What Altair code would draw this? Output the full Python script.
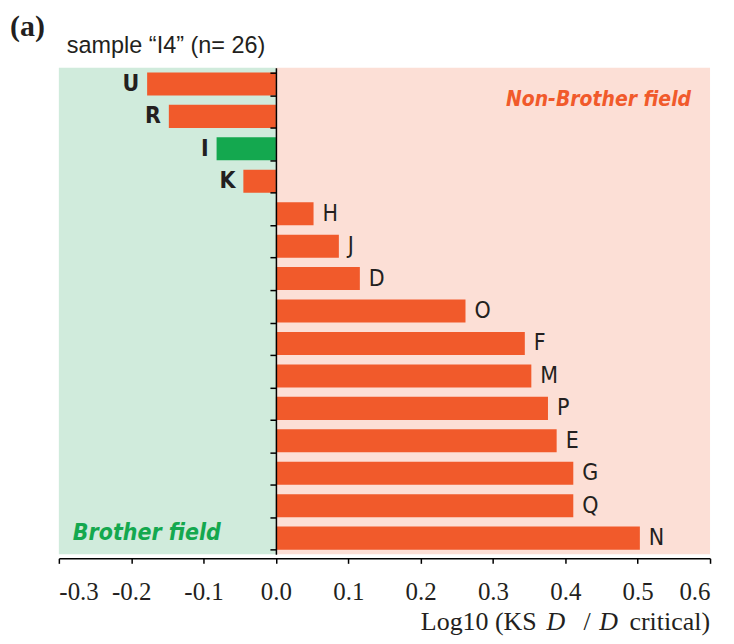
import altair as alt
import pandas as pd

# ---------------- data ----------------
labels = ["U", "R", "I", "K", "H", "J", "D", "O", "F", "M", "P", "E", "G", "Q", "N"]
values = [-0.178, -0.148, -0.082, -0.045, 0.052, 0.087, 0.116, 0.262,
          0.344, 0.353, 0.376, 0.388, 0.411, 0.411, 0.503]
brother_labels = ["I"]
x_ticks = [-0.3, -0.2, -0.1, 0.0, 0.1, 0.2, 0.3, 0.4, 0.5, 0.6]
brother_region = [-0.3, 0.0]
nonbrother_region = [0.0, 0.6]

# ---------------- style ----------------
ORANGE = "#f15a2b"
GREEN = "#14a84f"
BG_GREEN = "#d0ebdc"
BG_PINK = "#fcdfd6"
INK = "#231f20"
NARROW = "DejaVu Sans Condensed, DejaVu Sans, sans-serif"
SERIF = "Liberation Serif, serif"
W, H = 653, 488

df = pd.DataFrame({"label": labels, "value": values})
df["brother"] = df["label"].isin(brother_labels)

xscale = alt.Scale(domain=[x_ticks[0], x_ticks[-1]], nice=False, zero=False)
yscale = alt.Scale(domain=labels, paddingInner=0.29, paddingOuter=0.145)

x_axis = alt.Axis(
    values=x_ticks,
    labelExpr="datum.value < 0 ? '-' + format(-datum.value, '.1f') : format(datum.value, '.1f')",
    orient="bottom", offset=4, tickSize=5, tickWidth=1.5, tickColor="black",
    domainColor="black", domainWidth=1.5, labelFont=SERIF, labelFontSize=25,
    labelColor=INK, labelPadding=16, grid=False, title=None, zindex=1,
)

y_axis = alt.Axis(
    orient="left", offset=-(W * 0.3 / 0.9), labels=False, title=None,
    domainColor="black", domainWidth=1.5, tickColor="black", tickWidth=1.5,
    tickSize=6, tickBand="extent", grid=False, zindex=1,
)


def region(bounds, color, axis=None):
    xenc = alt.X("a:Q", scale=xscale, axis=axis) if axis is not None else alt.X("a:Q", scale=xscale)
    return alt.Chart(pd.DataFrame({"a": [bounds[0]], "b": [bounds[1]]})).mark_rect(
        color=color).encode(x=xenc, x2="b:Q", y=alt.value(0), y2=alt.value(H))


bg_green = region(brother_region, BG_GREEN, axis=x_axis)
bg_pink = region(nonbrother_region, BG_PINK)

bars = alt.Chart(df).mark_bar().encode(
    x=alt.X("value:Q", scale=xscale),
    y=alt.Y("label:N", sort=labels, scale=yscale, axis=y_axis),
    color=alt.condition("datum.brother", alt.value(GREEN), alt.value(ORANGE)),
)

left_text = alt.Chart(df).transform_filter("datum.value < 0").mark_text(
    align="right", baseline="middle", dx=-8, font=NARROW, fontSize=23,
    fontWeight="bold", color=INK,
).encode(x=alt.X("value:Q", scale=xscale), y=alt.Y("label:N", sort=labels, scale=yscale), text="label:N")

right_text = alt.Chart(df).transform_filter("datum.value >= 0").mark_text(
    align="left", baseline="middle", dx=9, font=NARROW, fontSize=23, color=INK,
).encode(x=alt.X("value:Q", scale=xscale), y=alt.Y("label:N", sort=labels, scale=yscale), text="label:N")


def note(text, x, y, **kw):
    return alt.Chart(pd.DataFrame({"t": [text]})).mark_text(baseline="alphabetic", **kw).encode(
        text="t:N", x=alt.value(x), y=alt.value(y))


notes = [
    note("(a)", -49, -32, align="left", font=SERIF, fontSize=30, fontWeight="bold", color=INK),
    note("sample \u201cI4\u201d (n= 26)", 8, -15, align="left", font="Liberation Sans, Arial, sans-serif",
         fontSize=23.5, color=INK),
    note("Non-Brother field", 634, 38, align="right", font=NARROW, fontSize=21,
         fontWeight="bold", fontStyle="italic", color=ORANGE),
    note("Brother field", 14, 474, align="left", font=NARROW, fontSize=23,
         fontWeight="bold", fontStyle="italic", color=GREEN),
    note("Log10 (KS", 363, 564, align="left", font=SERIF, fontSize=26, color=INK),
    note("D", 489, 564, align="left", font=SERIF, fontSize=26, fontStyle="italic", color=INK),
    note("/", 526, 564, align="left", font=SERIF, fontSize=26, color=INK),
    note("D", 542, 564, align="left", font=SERIF, fontSize=26, fontStyle="italic", color=INK),
    note("critical)", 653, 564, align="right", font=SERIF, fontSize=26, color=INK),
]

chart = alt.layer(bg_green, bg_pink, bars, left_text, right_text, *notes).properties(
    width=W, height=H,
    autosize=alt.AutoSizeParams(type="none"),
    padding={"left": 51, "top": 59, "right": 16, "bottom": 81},
).configure_view(stroke=None)

chart.save("out.html", embed_options={"renderer": "svg", "actions": False})
